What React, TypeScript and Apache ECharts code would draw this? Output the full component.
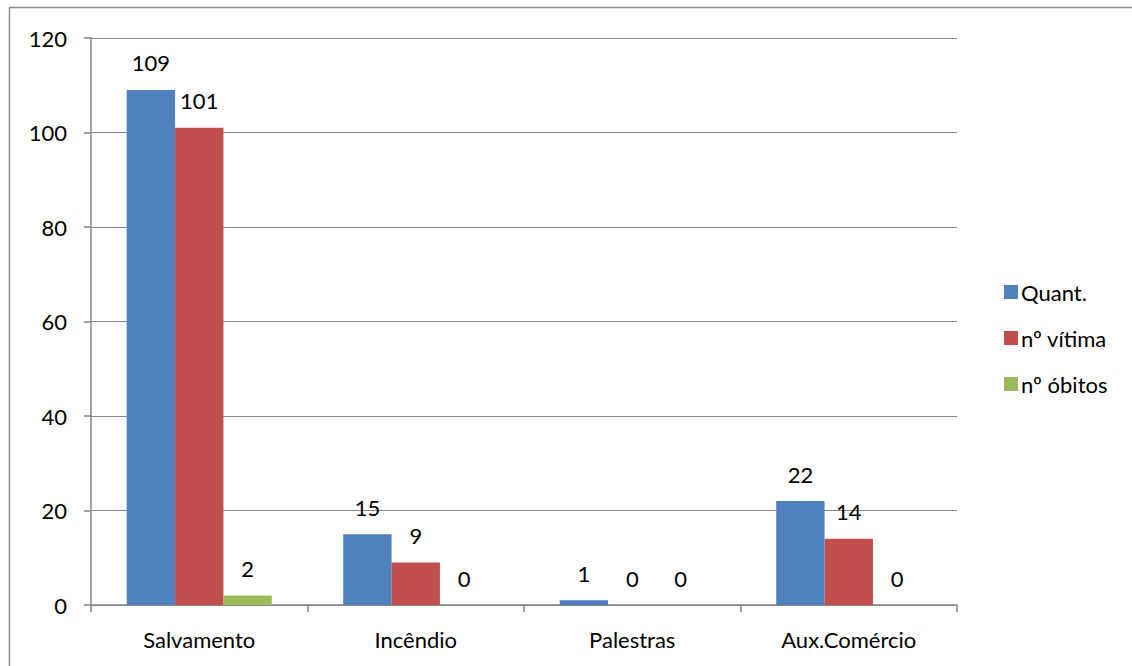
import React, { useEffect, useRef } from "react";
import * as echarts from "echarts";

const categories = ["Salvamento", "Incêndio", "Palestras", "Aux.Comércio"];
const quant = [109, 15, 1, 22];
const vitima = [101, 9, 0, 14];
const obitos = [2, 0, 0, 0];
const seriesNames = ["Quant.", "nº vítima", "nº óbitos"];
const colors = ["#4F81BD", "#C0504D", "#9BBB59"];

const FONT = "Lato, 'Open Sans', 'DejaVu Sans', sans-serif";

export default function App() {
  const ref = useRef<HTMLDivElement>(null);
  useEffect(() => {
    if (!ref.current) return;
    const chart = echarts.init(ref.current, null, { renderer: "svg" });
    const values = [quant, vitima, obitos];
    chart.setOption({
      animation: false,
      backgroundColor: "#ffffff",
      textStyle: { fontFamily: FONT },
      graphic: [
        {
          type: "rect",
          shape: { x: 9.5, y: 7.5, width: 1200, height: 800 },
          style: { fill: "none", stroke: "#8c8c8c", lineWidth: 1.5 },
          silent: true,
          z: -1,
        },
      ],
      grid: { left: 91, right: 175, top: 38, bottom: 61 },
      legend: {
        orient: "vertical",
        left: 999,
        top: 275,
        itemWidth: 14,
        itemHeight: 14,
        itemGap: 22,
        icon: "rect",
        textStyle: {
          fontSize: 22,
          lineHeight: 24,
          color: "#000",
          fontFamily: FONT,
          padding: [0, 0, 0, -2],
        },
        data: seriesNames,
      },
      xAxis: {
        type: "category",
        data: categories,
        axisLine: { lineStyle: { color: "#868686", width: 1.5 } },
        axisTick: { show: true, length: 7, lineStyle: { color: "#868686", width: 1.5 } },
        axisLabel: { fontSize: 22, color: "#000", margin: 23, fontFamily: FONT },
        splitLine: { show: false },
      },
      yAxis: {
        type: "value",
        min: 0,
        max: 120,
        interval: 20,
        axisLine: { show: true, lineStyle: { color: "#868686", width: 1.5 } },
        axisTick: { show: true, length: 7, lineStyle: { color: "#868686", width: 1.5 } },
        axisLabel: { fontSize: 22, color: "#000", margin: 24, fontFamily: FONT },
        splitLine: { show: true, lineStyle: { color: "#868686", width: 1.2 } },
      },
      series: seriesNames.map((name, i) => ({
        name,
        type: "bar",
        data: values[i],
        barGap: "0%",
        barCategoryGap: "33%",
        itemStyle: { color: colors[i] },
        label: {
          show: true,
          position: "top",
          distance: 16,
          fontSize: 22,
          color: "#000",
          fontFamily: FONT,
        },
      })),
    });
    return () => chart.dispose();
  }, []);
  return (
    <div
      ref={ref}
      style={{ position: "fixed", left: 0, top: 0, width: 1132, height: 666 }}
    />
  );
}
